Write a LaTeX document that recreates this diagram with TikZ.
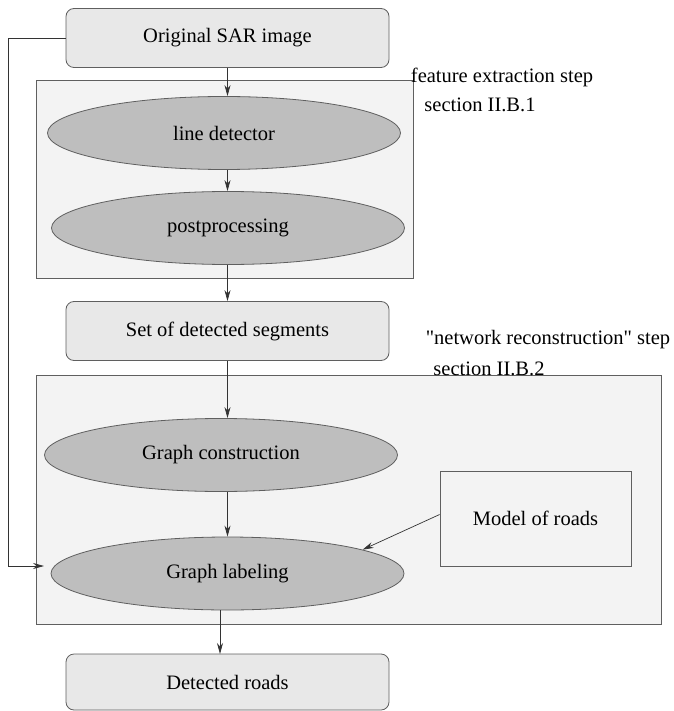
\documentclass[tikz,border=0pt]{standalone}
\usepackage{fontspec}
\setmainfont{Liberation Serif}
\usetikzlibrary{shapes.geometric,arrows.meta}
\definecolor{boxfill}{RGB}{232,232,232}
\definecolor{panelfill}{RGB}{243,243,243}
\definecolor{ellfill}{RGB}{190,190,190}
\definecolor{edge}{RGB}{95,95,95}
\begin{document}
\begin{tikzpicture}[x=1pt,y=-1pt,
    font=\fontsize{20.5}{24}\selectfont,
    roundbox/.style={draw=edge,fill=boxfill,rounded corners=8pt,line width=0.8pt,
      minimum width=323pt,minimum height=59pt,inner sep=0pt},
    stepell/.style={ellipse,draw=edge,fill=ellfill,line width=0.8pt,
      minimum width=353pt,minimum height=73pt,inner sep=0pt},
    panel/.style={draw=edge,fill=panelfill,line width=0.8pt},
    note/.style={inner sep=0pt},
    arr/.style={-{Stealth[length=11pt,width=6pt]},line width=0.7pt,black!80}]
  \useasboundingbox (0,0) rectangle (673,711);
  % grey panels of the two steps
  \draw[panel] (36,80) rectangle (413,278);
  \draw[panel] (36,375) rectangle (661,624);
  \draw
    (227.5,38) node[roundbox] (orig){Original SAR image}
    (224,133) node[stepell] (linedet){line detector}
    (228,228) node[stepell] (post){postprocessing}
    (227.5,331) node[roundbox] (segs){Set of detected segments}
    (221,455) node[stepell] (gconst){Graph construction}
    (227.5,573.5) node[stepell] (glabel){Graph labeling}
    (227.5,682) node[roundbox,minimum height=56pt] (roads){Detected roads}
    (535.5,518.5) node[draw=edge,line width=0.8pt,minimum width=191pt,
      minimum height=95pt] (model){Model of roads};
  \draw
    (502,77) node[note] (fes){feature extraction step}
    (480,105) node[note] (sec1){section II.B.1}
    (548,340) node[note] (nrs){\textquotedbl network reconstruction\textquotedbl{} step}
    (489,369) node[note] (sec2){section II.B.2};
  \coordinate (labin) at (44,566);
  \begin{scope}[arr]
    \draw (orig.south) -- (orig.south |- linedet.north);
    \draw (orig.south |- linedet.south) -- (orig.south |- post.north);
    \draw (orig.south |- post.south) -- (orig.south |- segs.north);
    \draw (segs.south) -- (segs.south |- gconst.north);
    \draw (segs.south |- gconst.south) -- (segs.south |- glabel.north);
    \draw (220,610) -- (220,654);
    \draw ([yshift=4pt]model.west) -- (glabel.10);
    \draw (orig.west) -- (8,38) -- (8,566) -- (labin);
  \end{scope}
\end{tikzpicture}
\end{document}
